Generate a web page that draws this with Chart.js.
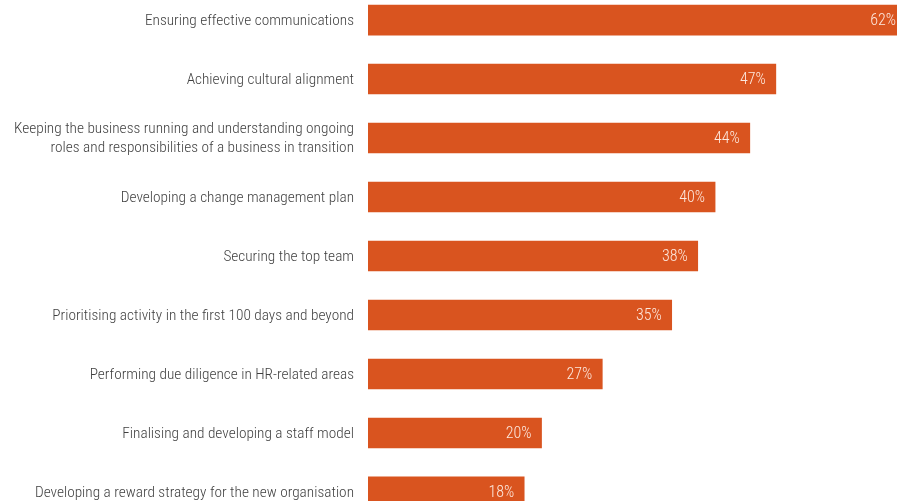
<!DOCTYPE html>
<html>
<head>
<meta charset="utf-8">
<script src="https://cdn.jsdelivr.net/npm/chart.js@4"></script>
<style>
  html, body { margin: 0; padding: 0; background: #fff; }
  #wrap { position: relative; width: 897px; height: 501px; overflow: hidden; }
  #box { position: absolute; left: 0; top: -19.5px; width: 906px; height: 550px; }
</style>
</head>
<body>
<div id="wrap">
  <div id="box"><canvas id="chart"></canvas></div>
</div>
<script>
const categorias = [
  'Ensuring effective communications',
  'Achieving cultural alignment',
  ['Keeping the business running and understanding ongoing', 'roles and responsibilities of a business in transition'],
  'Developing a change management plan',
  'Securing the top team',
  'Prioritising activity in the first 100 days and beyond',
  'Performing due diligence in HR-related areas',
  'Finalising and developing a staff model',
  'Developing a reward strategy for the new organisation'
];
const porcentajes = [62, 47, 44, 40, 38, 35, 27, 20, 18];

const fuente = "'Roboto Condensed', 'DejaVu Sans Condensed', sans-serif";

// etiquetas de valor dentro del extremo de cada barra
const etiquetasValor = {
  id: 'etiquetasValor',
  afterDatasetsDraw(chart) {
    const c = chart.ctx;
    const meta = chart.getDatasetMeta(0);
    c.save();
    c.font = '300 16px ' + fuente;
    c.fillStyle = '#fde8de';
    c.textAlign = 'right';
    c.textBaseline = 'middle';
    meta.data.forEach((bar, i) => {
      c.fillText(porcentajes[i] + '%', bar.x - 10, bar.y + 1);
    });
    c.restore();
  }
};

const ctx = document.getElementById('chart').getContext('2d');
new Chart(ctx, {
  type: 'bar',
  data: {
    labels: categorias,
    datasets: [{
      data: porcentajes,
      backgroundColor: '#d9541f',
      barThickness: 30,
    }],
  },
  options: {
    indexAxis: 'y',
    responsive: true,
    maintainAspectRatio: false,
    animation: false,
    layout: { padding: 0 },
    plugins: {
      legend: { display: false },
      tooltip: { enabled: false },
    },
    scales: {
      x: {
        min: 0,
        max: 62,
        display: false,
      },
      y: {
        grid: {
          display: true,
          color: 'transparent',
          drawOnChartArea: false,
          drawTicks: true,
          tickLength: 14,
        },
        border: { display: false },
        ticks: {
          padding: 0,
          labelOffset: 1,
          color: '#3f3f3f',
          font: { family: fuente, size: 15.3, weight: '300', lineHeight: 1.25 },
          autoSkip: false,
        },
        afterFit(scale) { scale.width = 368; },
      },
    },
  },
  plugins: [etiquetasValor],
});
</script>
</body>
</html>
